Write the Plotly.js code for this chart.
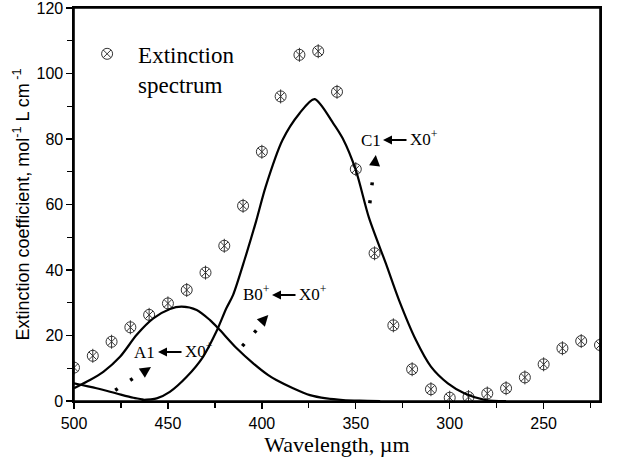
<!DOCTYPE html>
<html>
<head>
<meta charset="utf-8">
<script src="https://cdn.plot.ly/plotly-3.0.1.min.js"></script>
<style>html,body{margin:0;padding:0;background:#fff;}#chart{width:624px;height:457px;}</style>
</head>
<body>
<div id="chart"></div>
<script>
// Extinction spectrum (points)
const specWl = [500,490,480,470,460,450,440,430,420,410,400,390,380,370,360,350,340,330,320,310,300,290,280,270,260,250,240,230,220];
const specVal = [10.2,13.8,18.1,22.5,26.3,29.8,33.9,39.2,47.4,59.6,76.1,93.0,105.7,106.8,94.4,70.8,45.1,23.1,9.7,3.6,1.0,1.2,2.3,3.9,7.2,11.2,16.1,18.3,17.1];

// A1 <- X0+ band
const a1Wl = [500,491.5,484.4,475.5,466.6,457.8,448.9,442.7,434.7,427.6,423.2,413.4,404.6,396.6,392.3,383.4,374.4,365.6,356.8,348,337];
const a1Val = [3.9,6.4,8.9,13.5,20.2,25.2,28.1,28.8,27.8,24.7,22.2,16.1,11.5,7.9,6.4,3.9,1.8,0.8,0.3,0.1,0.0];

// B0+ <- X0+ band (main band)
const b0Wl = [464,456,449,440,431.3,424.2,418.9,415.3,409,403,398,389,380,372,362,357,350,343,334,327,318,310,301,292,281,270];
const b0Val = [0.3,0.8,2.8,7.4,13.5,21.2,28.3,32.4,43.5,55.0,65.4,79.7,87.8,92.2,84.8,80.2,70.5,56.0,42.0,30.8,18.6,10.5,5.4,2.3,0.3,0.0];

// band tail entering from beyond 500
const c1Wl = [500,488,477.3,468.4,463];
const c1Val = [5.4,3.9,2.3,1.0,0.4];

const xTickVals = [500,450,400,350,300,250];
const yTickVals = [0,20,40,60,80,100,120];

// layout helpers: pixel -> data (plot area 74..600 x, 8..401 y)
const X0 = 74, X1 = 600, Y0 = 8, Y1 = 401;
const xd = px => 500 - (px - X0) * 280 / (X1 - X0);
const yd = py => (Y1 - py) * 120 / (Y1 - Y0);

const serif = 'Liberation Serif, Times New Roman, serif';
const sans = 'Liberation Sans, Arial, sans-serif';

const lineStyle = {color:'#000', width:2.2, shape:'spline', smoothing:0.8};

const traces = [
  {x:specWl, y:specVal, type:'scatter', mode:'markers', name:'Extinction<br>spectrum',
   marker:{symbol:'circle-x-open', size:11, color:'#333', line:{width:1, color:'#333'}}},
  {x:specWl, y:specVal, type:'scatter', mode:'markers', showlegend:false, hoverinfo:'skip',
   marker:{symbol:'line-ns-open', size:10, color:'#333', line:{width:1, color:'#333'}}},
  {x:a1Wl, y:a1Val, type:'scatter', mode:'lines', showlegend:false, line:lineStyle},
  {x:b0Wl, y:b0Val, type:'scatter', mode:'lines', showlegend:false, line:lineStyle},
  {x:c1Wl, y:c1Val, type:'scatter', mode:'lines', showlegend:false, line:lineStyle}
];

function label(txt, px, py, anchor) {
  return {x:xd(px), y:yd(py), xref:'x', yref:'y', text:txt, showarrow:false,
          xanchor:anchor, yanchor:'middle', font:{family:serif, size:17, color:'#000'}};
}
function solidArrow(headPx, py, len) {
  return {x:xd(headPx), y:yd(py), xref:'x', yref:'y', text:'', showarrow:true,
          ax:len, ay:0, arrowhead:2, arrowsize:1, arrowwidth:1.8, arrowcolor:'#000', standoff:0, startstandoff:0};
}
function headOnly(tipX, tipY, dx, dy) {
  return {x:xd(tipX), y:yd(tipY), xref:'x', yref:'y', text:'', showarrow:true,
          ax:dx, ay:dy, arrowhead:2, arrowsize:1.1, arrowwidth:2, arrowcolor:'#000', standoff:0};
}
function dotted(xa, ya, xb, yb) {
  return {type:'line', xref:'x', yref:'y', x0:xd(xa), y0:yd(ya), x1:xd(xb), y1:yd(yb),
          line:{color:'#000', width:3.5, dash:'3px,15px'}};
}

const annotations = [
  label('A1', 157, 352, 'right'), solidArrow(158, 352, 25), label('X0<sup>+</sup>', 183, 350, 'left'),
  label('B0<sup>+</sup>', 272, 293, 'right'), solidArrow(272, 295, 25), label('X0<sup>+</sup>', 297, 293, 'left'),
  label('C1', 383, 140, 'right'), solidArrow(383, 140, 25), label('X0<sup>+</sup>', 408, 138, 'left'),
  headOnly(151, 367, -7.5, 5),
  headOnly(268.3, 315, -6, 6.5),
  headOnly(375.8, 155, -1, 9)
];

const shapes = [
  dotted(115.2, 390.3, 133.2, 378.3),
  dotted(242.3, 346.1, 257, 329.6),
  dotted(369.8, 203.2, 373.5, 171.8),
  {type:'rect', xref:'paper', yref:'paper', x0:0, x1:1, y0:0, y1:1, line:{color:'#000', width:1.6}, fillcolor:'rgba(0,0,0,0)', layer:'above'}
];

const layout = {
  width:624, height:457,
  margin:{l:X0, r:624-X1, t:Y0, b:457-Y1},
  paper_bgcolor:'#fff', plot_bgcolor:'#fff',
  showlegend:true,
  legend:{x:0.004, y:0.938, xanchor:'left', yanchor:'top', bgcolor:'rgba(0,0,0,0)',
          font:{family:serif, size:23, color:'#000'}, itemwidth:52, valign:'top'},
  xaxis:{range:[500,220], autorange:false, tickvals:xTickVals, ticktext:xTickVals.map(String),
         ticks:'outside', ticklen:6, tickwidth:1.3, tickcolor:'#000',
         minor:{dtick:25, ticks:'outside', ticklen:5, tickwidth:1.3, tickcolor:'#000'},
         showline:true, linecolor:'#000', linewidth:1.6, mirror:true, showgrid:false, zeroline:false,
         ticklabeloverflow:'allow', ticklabelstandoff:1,
         tickfont:{family:sans, size:16, color:'#000'},
         title:{text:'Wavelength, \u00b5m', font:{family:serif, size:22, color:'#000'}, standoff:0}},
  yaxis:{range:[0,120], autorange:false, tickvals:yTickVals, ticktext:yTickVals.map(String),
         ticks:'outside', ticklen:6, tickwidth:1.3, tickcolor:'#000',
         minor:{dtick:10, ticks:'outside', ticklen:5, tickwidth:1.3, tickcolor:'#000'},
         showline:true, linecolor:'#000', linewidth:1.6, mirror:true, showgrid:false, zeroline:false,
         ticklabeloverflow:'allow',
         tickfont:{family:sans, size:16, color:'#000'},
         title:{text:'Extinction coefficient, mol<sup>-1</sup> L cm<sup> -1</sup>', font:{family:sans, size:18, color:'#000'}, standoff:2}},
  annotations:annotations,
  shapes:shapes
};

Plotly.newPlot('chart', traces, layout, {displayModeBar:false, staticPlot:true});
</script>
</body>
</html>
